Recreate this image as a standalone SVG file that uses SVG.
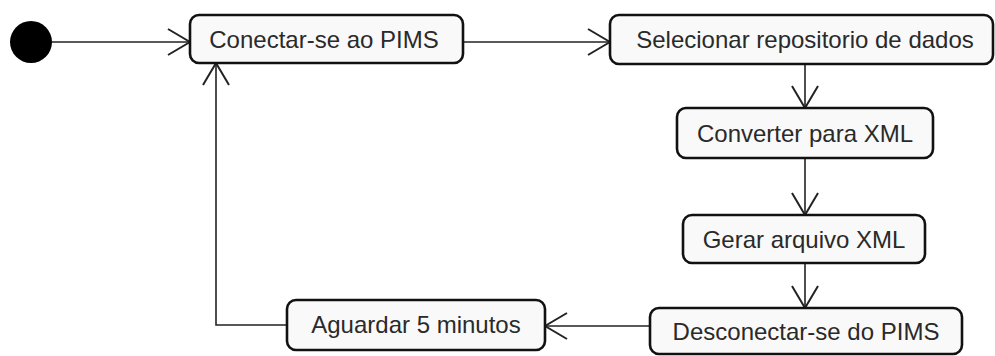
<svg xmlns="http://www.w3.org/2000/svg" width="995" height="356" viewBox="0 0 995 356">
<style>
.node rect{fill:#f9f9f9;stroke:#111;stroke-width:2.6}
.node text{font-family:"Liberation Sans",Arial,sans-serif;font-size:24px;fill:#2a2a2a;text-anchor:middle}
.edges path{fill:none;stroke:#222;stroke-width:1.6}
</style>
<defs>
<marker id="open" viewBox="0 0 24 28" refX="23" refY="14" markerWidth="24" markerHeight="28" markerUnits="userSpaceOnUse" orient="auto">
<path d="M1,1 L23,14 L1,27" fill="none" stroke="#222" stroke-width="2"/>
</marker>
</defs>
<rect width="995" height="356" fill="#fff"/>
<g id="start"><circle cx="31" cy="42" r="21" fill="#000"/></g>
<g class="edges">
<path d="M52,42 H190" marker-end="url(#open)"/>
<path d="M463,42 H610" marker-end="url(#open)"/>
<path d="M805,64 V108" marker-end="url(#open)"/>
<path d="M805,158 V215" marker-end="url(#open)"/>
<path d="M805,263 V308" marker-end="url(#open)"/>
<path d="M650,326 H545" marker-end="url(#open)"/>
<path d="M287,325 H216 V63" marker-end="url(#open)"/>
</g>
<g id="n1" class="node"><rect x="190" y="15" width="273" height="48" rx="9"/><text x="324" y="48">Conectar-se ao PIMS</text></g>
<g id="n2" class="node"><rect x="610" y="15" width="383" height="49" rx="9"/><text x="805" y="48">Selecionar repositorio de dados</text></g>
<g id="n3" class="node"><rect x="677" y="108" width="256" height="50" rx="9"/><text x="805" y="142">Converter para XML</text></g>
<g id="n4" class="node"><rect x="683" y="215" width="242" height="48" rx="9"/><text x="804" y="248">Gerar arquivo XML</text></g>
<g id="n5" class="node"><rect x="650" y="308" width="312" height="46" rx="9"/><text x="806" y="340">Desconectar-se do PIMS</text></g>
<g id="n6" class="node"><rect x="287" y="300" width="258" height="50" rx="9"/><text x="416" y="333">Aguardar 5 minutos</text></g>
</svg>
